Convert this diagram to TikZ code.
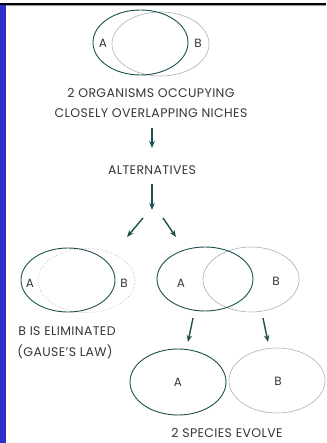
\documentclass[tikz,border=0pt]{standalone}
\usepackage{fontspec}
\setmainfont{Poppins}[LetterSpace=3]
\usetikzlibrary{shapes.geometric,arrows.meta}
\definecolor{bluebar}{RGB}{46,46,204}
\definecolor{ringA}{RGB}{30,80,80}
\definecolor{ringB}{RGB}{170,178,180}
\definecolor{txt}{RGB}{55,55,55}
\tikzset{
  ringa/.style={ellipse,draw=ringA,line width=0.9pt,inner sep=0pt},
  ringb/.style={ellipse,draw=ringB,line width=0.6pt,inner sep=0pt},
  ringd/.style={ellipse,draw=ringB,line width=0.7pt,dotted,inner sep=0pt},
  lbl/.style={text=txt,font=\fontsize{12}{12}\selectfont,inner sep=0pt},
  captxt/.style={text=txt,font=\fontsize{12.5}{14}\selectfont,inner sep=0pt,align=center},
  arr/.style={draw=ringA,line width=1.4pt,-{Stealth[length=7pt,width=5.5pt]}}
}
\begin{document}
\begin{tikzpicture}[x=1pt,y=-1pt]
\useasboundingbox (0,0) rectangle (326,443);
\fill[white] (0,0) rectangle (326,443);
\fill[black] (0,2.8) rectangle (326,5.2);
\fill[black!40] (0,5.2) rectangle (326,5.8);
\fill[bluebar] (0,5.2) rectangle (6,443);
% top
\node[ringb,minimum width=97pt,minimum height=64pt] (tB) at (160.5,44) {};
\node[ringa,minimum width=95pt,minimum height=65pt] (tA) at (140.5,42.5) {};
\node[lbl] (tAl) at (103,43) {A};
\node[lbl] (tBl) at (198,43) {B};
\node[captxt] (t1) at (151,93) {2 ORGANISMS OCCUPYING};
\node[captxt] (t2) at (151,113) {CLOSELY OVERLAPPING NICHES};
\coordinate (a1s) at (152,128);
\coordinate (a1e) at (152,148);
\draw[arr] (a1s) -- (a1e);
\node[captxt] (alt) at (152,170) {ALTERNATIVES};
\coordinate (a2s) at (152,184);
\coordinate (a2e) at (152,210);
\draw[arr] (a2s) -- (a2e);
\coordinate (a3s) at (143,218);
\coordinate (a3e) at (127,237);
\draw[arr] (a3s) -- (a3e);
\coordinate (a4s) at (163,218);
\coordinate (a4e) at (176,237);
\draw[arr] (a4s) -- (a4e);
% left group
\node[ringd,minimum width=97pt,minimum height=64pt] (lB) at (86.5,280.5) {};
\node[ringa,minimum width=94pt,minimum height=64pt] (lA) at (68,280) {};
\node[lbl] (lAl) at (30,283) {A};
\node[lbl] (lBl) at (124,283) {B};
\node[captxt] (e1) at (67,331) {B IS ELIMINATED};
\node[captxt] (e2) at (65,352) {(GAUSE'S LAW)};
% right group
\node[ringb,minimum width=96pt,minimum height=65pt] (rB) at (251,279.5) {};
\node[ringa,minimum width=96pt,minimum height=64pt] (rA) at (205,279) {};
\node[lbl] (rAl) at (181,283) {A};
\node[lbl] (rBl) at (276,281) {B};
\coordinate (a5s) at (193,318);
\coordinate (a5e) at (188,342);
\draw[arr] (a5s) -- (a5e);
\coordinate (a6s) at (263,318);
\coordinate (a6e) at (268,342);
\draw[arr] (a6s) -- (a6e);
% bottom
\node[ringa,minimum width=96pt,minimum height=66pt] (bA) at (178,382) {};
\node[ringb,minimum width=96pt,minimum height=65pt] (bB) at (277,380.5) {};
\node[lbl] (bAl) at (178,382) {A};
\node[lbl] (bBl) at (278,381) {B};
\node[captxt] (sp) at (227,433) {2 SPECIES EVOLVE};
\end{tikzpicture}
\end{document}
